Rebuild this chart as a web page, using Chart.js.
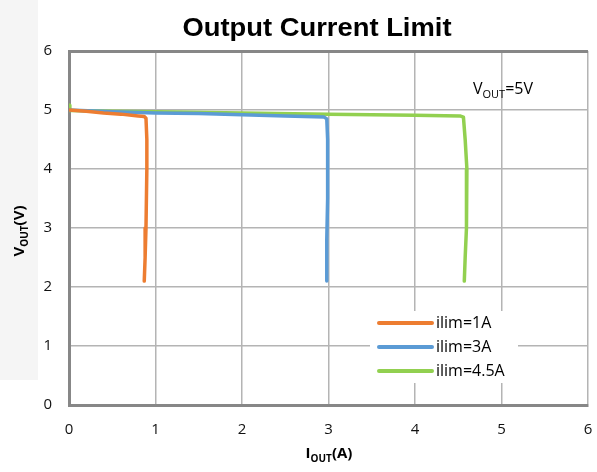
<!DOCTYPE html>
<html><head><meta charset="utf-8">
<script src="https://cdn.jsdelivr.net/npm/chart.js@4/dist/chart.umd.min.js"></script>
<style>html,body{margin:0;padding:0;background:#fff;}#wrap{position:relative;width:597px;height:472px;}</style>
</head><body><div id="wrap"><canvas id="c" width="597" height="472"></canvas></div>
<script>
// ---- data ----
const seriesNames = ["ilim=1A", "ilim=3A", "ilim=4.5A"];
const seriesColors = ["#ED7D31", "#5B9BD5", "#92D050"];
const ilim1X = [0, 0.2, 0.4, 0.6, 0.8, 0.87, 0.89, 0.9, 0.9, 0.89, 0.88, 0.87];
const ilim1Y = [5.0, 4.98, 4.95, 4.93, 4.9, 4.89, 4.86, 4.5, 4.0, 3.0, 2.5, 2.1];
const ilim3X = [0, 0.5, 1, 1.5, 2, 2.5, 2.95, 2.98, 2.99, 2.99, 2.98, 2.98];
const ilim3Y = [5.0, 4.97, 4.95, 4.94, 4.92, 4.9, 4.88, 4.85, 4.5, 3.5, 2.8, 2.1];
const ilim45X = [0, 0.01, 0.5, 1, 2, 3, 4, 4.52, 4.56, 4.58, 4.6, 4.6, 4.59, 4.58, 4.57];
const ilim45Y = [5.08, 4.99, 4.98, 4.97, 4.95, 4.93, 4.91, 4.9, 4.88, 4.5, 4.0, 3.5, 3.0, 2.5, 2.1];
const xTicks = [0, 1, 2, 3, 4, 5, 6];
const yTicks = [0, 1, 2, 3, 4, 5, 6];
const titleText = "Output Current Limit";

function pts(xs, ys) { return xs.map((x, i) => ({x: x, y: ys[i]})); }
const allX = [ilim1X, ilim3X, ilim45X], allY = [ilim1Y, ilim3Y, ilim45Y];

function drawSub(ctx, parts, x, y, align) {
  // parts: [text, size, sub, regular]
  let w = 0;
  parts.forEach(p => { ctx.font = (p[3] ? "" : "bold ") + p[1] + "px 'Open Sans', sans-serif"; w += ctx.measureText(p[0]).width; });
  let cx = align === "center" ? x - w / 2 : x;
  ctx.textBaseline = "alphabetic"; ctx.textAlign = "left";
  parts.forEach(p => {
    ctx.font = (p[3] ? "" : "bold ") + p[1] + "px 'Open Sans', sans-serif";
    ctx.fillText(p[0], cx, y + (p[2] ? 4 : 0));
    cx += ctx.measureText(p[0]).width;
  });
}

const decor = {
  id: "decor",
  beforeDraw(chart) {
    const ctx = chart.ctx;
    ctx.save();
    ctx.fillStyle = "#f5f5f5";
    ctx.fillRect(0, 0, 38, 380);
    ctx.restore();
  },
  afterDatasetsDraw(chart) {
    const ctx = chart.ctx;
    ctx.save();
    // title
    ctx.fillStyle = "#000";
    ctx.font = "bold 26px 'Liberation Sans', Arial, sans-serif";
    const tw = ctx.measureText(titleText).width;
    ctx.translate(317, 36);
    ctx.scale(269 / tw, 1);
    ctx.textAlign = "center"; ctx.textBaseline = "alphabetic";
    ctx.fillText(titleText, 0, 0);
    ctx.restore();

    ctx.save();
    ctx.fillStyle = "#000";
    // x axis title
    drawSub(ctx, [["I", 15], ["OUT", 10, true], ["(A)", 15]], 329, 458, "center");
    // y axis title
    ctx.translate(24, 231);
    ctx.rotate(-Math.PI / 2);
    drawSub(ctx, [["V", 15], ["OUT", 10, true], ["(V)", 15]], 0, 0, "center");
    ctx.restore();

    // annotation
    ctx.save();
    ctx.fillStyle = "#000";
    drawSub(ctx, [["V", 16, false, true], ["OUT", 11, true, true], ["=5V", 16, false, true]], 473, 94, "left");
    ctx.restore();

    // legend
    ctx.save();
    ctx.fillStyle = "#fff";
    ctx.fillRect(370, 311, 148, 72);
    seriesNames.forEach((n, i) => {
      const y = 323 + i * 24;
      ctx.strokeStyle = seriesColors[i];
      ctx.lineWidth = 4; ctx.lineCap = "round";
      ctx.beginPath(); ctx.moveTo(379, y); ctx.lineTo(432, y); ctx.stroke();
      ctx.fillStyle = "#000";
      ctx.font = "16px 'Open Sans', sans-serif";
      ctx.textBaseline = "middle"; ctx.textAlign = "left";
      ctx.fillText(n, 436, y);
    });
    ctx.restore();
  }
};

new Chart(document.getElementById("c"), {
  type: "scatter",
  data: {
    datasets: seriesNames.map((n, i) => ({
      label: n,
      data: pts(allX[i], allY[i]),
      showLine: true,
      borderColor: seriesColors[i],
      backgroundColor: seriesColors[i],
      borderWidth: 3.5,
      pointRadius: 0,
      tension: 0,
      borderJoinStyle: "round",
      borderCapStyle: "round"
    }))
  },
  options: {
    responsive: false,
    devicePixelRatio: 1,
    animation: false,
    layout: { padding: { left: 0, right: 9, top: 51, bottom: 0 } },
    plugins: { legend: { display: false }, title: { display: false }, tooltip: { enabled: false } },
    scales: {
      x: {
        type: "linear", min: 0, max: 6,
        afterBuildTicks: s => { s.ticks = xTicks.map(v => ({value: v})); },
        afterFit: s => { s.height = 67; s.paddingLeft = 0; s.paddingRight = 0; },
        ticks: { padding: 16, color: "#111", maxRotation: 0, font: { family: "'Open Sans', sans-serif", size: 15 } },
        grid: { drawTicks: false, color: "#b4b4b4", lineWidth: 1.5 },
        border: { display: true, color: "#878787", width: 3 }
      },
      y: {
        type: "linear", min: 0, max: 6,
        afterBuildTicks: s => { s.ticks = yTicks.map(v => ({value: v})); },
        afterFit: s => { s.width = 69; s.paddingTop = 0; s.paddingBottom = 0; },
        ticks: { padding: 17, color: "#111", font: { family: "'Open Sans', sans-serif", size: 15 } },
        grid: {
          drawTicks: false,
          color: c => (c.tick && c.tick.value === 6) ? "#878787" : "#b4b4b4",
          lineWidth: c => (c.tick && c.tick.value === 6) ? 3 : 1.5
        },
        border: { display: true, color: "#878787", width: 3 }
      }
    }
  },
  plugins: [decor]
});
</script></body></html>
